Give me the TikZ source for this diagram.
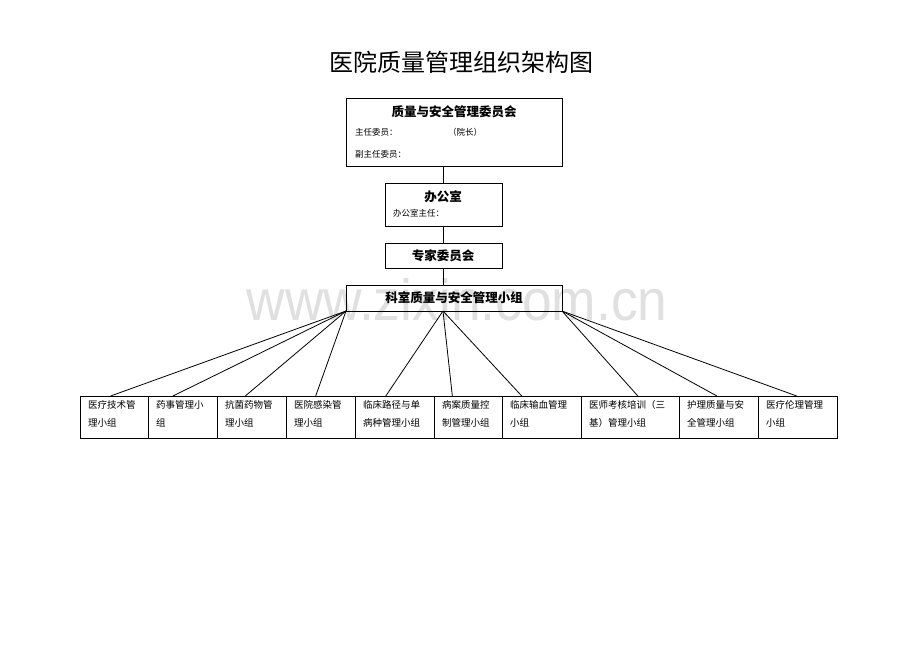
\documentclass[tikz,border=0pt]{standalone}
\usepackage{fontspec}
\setmainfont{Noto Sans CJK SC}
\newfontfamily\wmfont{Liberation Sans}
\usetikzlibrary{calc}
\begin{document}
\begin{tikzpicture}[x=1pt,y=-1pt,
  box/.style={draw,line width=0.8pt,inner sep=0pt,outer sep=0pt,anchor=north west},
  conn/.style={line width=0.8pt},
  head/.style={font=\fontsize{12.5}{14}\selectfont\bfseries,inner sep=0pt},
  small/.style={font=\fontsize{8.5}{10}\selectfont,inner sep=0pt,anchor=west},
  cell/.style={font=\fontsize{9.5}{18}\selectfont,inner sep=0pt,anchor=north west,align=left}]
\useasboundingbox (0,0) rectangle (920,651);
\fill[white] (0,0) rectangle (920,651);
% watermark
\node[text=black!12,inner sep=0pt,anchor=base] (wm) at (457,320) {\scalebox{0.92}[1]{\wmfont\fontsize{58}{58}\selectfont www.zixin.com.cn}};
% title
\node[font=\fontsize{24}{28}\selectfont,inner sep=0pt] (title) at (461,62) {医院质量管理组织架构图};
% top committee
\node[box,minimum width=216pt,minimum height=68pt] (top) at (346,98) {};
\node[head] (toph) at (454,112) {质量与安全管理委员会};
\node[small] (t1) at (355,132) {主任委员：};
\node[small] (t2) at (448,132) {（院长）};
\node[small] (t3) at (355,154) {副主任委员：};
% office
\node[box,minimum width=117pt,minimum height=43pt] (off) at (385,183) {};
\node[head] (offh) at (443,197) {办公室};
\node[small] (o1) at (393,213) {办公室主任：};
% experts
\node[box,minimum width=117pt,minimum height=25pt] (exp) at (385,243) {};
\node[head] (exph) at (443,256) {专家委员会};
% section
\node[box,minimum width=216pt,minimum height=26pt] (sec) at (346,285) {};
\node[head] (sech) at (454,298) {科室质量与安全管理小组};
% vertical connectors
\draw[conn] (top.south -| offh) -- (off.north -| offh);
\draw[conn] (off.south -| offh) -- (exp.north -| offh);
\draw[conn] (exp.south -| offh) -- (sec.north -| offh);
% bottom boxes
\foreach \n/\x/\w in {1/80/68,2/148/69,3/217/69,4/286/69,5/355/79,6/434/68,7/502/79,8/581/98,9/679/79,10/758/79}{
  \node[box,minimum width=\w pt,minimum height=42pt] (b\n) at (\x,396) {};
}
\node[cell] (c1) at ($(b1.north west)+(8,4)$) {医疗技术管\\理小组};
\node[cell] (c2) at ($(b2.north west)+(8,4)$) {药事管理小\\组};
\node[cell] (c3) at ($(b3.north west)+(8,4)$) {抗菌药物管\\理小组};
\node[cell] (c4) at ($(b4.north west)+(8,4)$) {医院感染管\\理小组};
\node[cell] (c5) at ($(b5.north west)+(8,4)$) {临床路径与单\\病种管理小组};
\node[cell] (c6) at ($(b6.north west)+(8,4)$) {病案质量控\\制管理小组};
\node[cell] (c7) at ($(b7.north west)+(8,4)$) {临床输血管理\\小组};
\node[cell] (c8) at ($(b8.north west)+(8,4)$) {医师考核培训（三\\基）管理小组};
\node[cell] (c9) at ($(b9.north west)+(8,4)$) {护理质量与安\\全管理小组};
\node[cell] (c10) at ($(b10.north west)+(8,4)$) {医疗伦理管理\\小组};
% fan connectors
\coordinate (pL) at (sec.south west);
\coordinate (pM) at ($(sec.south west)!0.449!(sec.south east)$);
\coordinate (pR) at (sec.south east);
\draw[conn] (pL) -- ($(b1.north west)!0.45!(b1.north east)$);
\draw[conn] (pL) -- ($(b2.north west)!0.36!(b2.north east)$);
\draw[conn] (pL) -- ($(b3.north west)!0.41!(b3.north east)$);
\draw[conn] (pL) -- ($(b4.north west)!0.43!(b4.north east)$);
\draw[conn] (pM) -- ($(b5.north west)!0.39!(b5.north east)$);
\draw[conn] (pM) -- ($(b6.north west)!0.27!(b6.north east)$);
\draw[conn] (pM) -- ($(b7.north west)!0.25!(b7.north east)$);
\draw[conn] (pR) -- ($(b8.north west)!0.58!(b8.north east)$);
\draw[conn] (pR) -- ($(b9.north west)!0.48!(b9.north east)$);
\draw[conn] (pR) -- ($(b10.north west)!0.49!(b10.north east)$);
\end{tikzpicture}
\end{document}
